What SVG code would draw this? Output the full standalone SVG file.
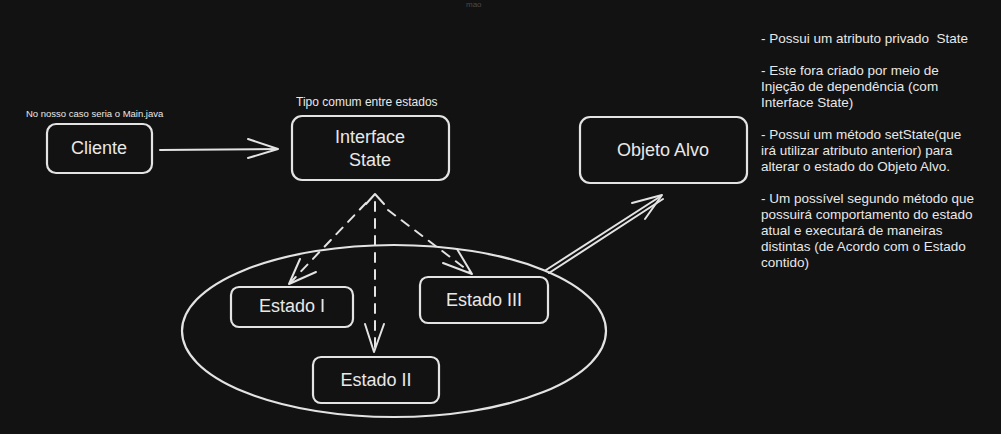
<svg xmlns="http://www.w3.org/2000/svg" width="1001" height="434" viewBox="0 0 1001 434">
<style>
.bg{fill:#121212}
.box{fill:none;stroke:#e3e3e3;stroke-width:2.2;}
.t{fill:#e8e8e8;font-family:"Liberation Sans",Arial,sans-serif}
.node{font-size:18px;text-anchor:middle}
.note{font-size:13.5px;white-space:pre}
.conn{fill:none;stroke:#e3e3e3;stroke-width:2;stroke-linecap:round;stroke-linejoin:round}
.dash{stroke-dasharray:9 8}
</style>
<rect class="bg" x="0" y="0" width="1001" height="434"/>
<text class="t" x="466" y="7" style="font-size:8px;fill:#4a4a4a">mao</text>

<g id="cliente">
<rect class="box" x="47" y="124" width="105" height="49" rx="9"/>
<text class="t node" x="99" y="154">Cliente</text>
<text class="t" x="26" y="117" style="font-size:9.5px">No nosso caso seria o Main.java</text>
</g>

<g id="interface-state">
<rect class="box" x="292" y="116" width="157" height="64" rx="10"/>
<text class="t node" x="370" y="143">Interface</text>
<text class="t node" x="370" y="166">State</text>
<text class="t" x="296" y="106" style="font-size:12px">Tipo comum entre estados</text>
</g>

<g id="objeto-alvo">
<rect class="box" x="580" y="117" width="167" height="66" rx="10"/>
<text class="t node" x="663" y="156">Objeto Alvo</text>
</g>

<g id="grupo-estados">
<ellipse class="box" cx="394" cy="331" rx="212" ry="86"/>
</g>

<g id="estado-1">
<rect class="box" x="231" y="287" width="122" height="40" rx="8"/>
<text class="t node" x="292" y="312">Estado I</text>
</g>
<g id="estado-3">
<rect class="box" x="420" y="277" width="128" height="46" rx="8"/>
<text class="t node" x="484" y="306">Estado III</text>
</g>
<g id="estado-2">
<rect class="box" x="313" y="357" width="126" height="46" rx="8"/>
<text class="t node" x="376" y="386">Estado II</text>
</g>

<g id="connectors">
<path class="conn" d="M160 150 L277 149" stroke-width="3"/>
<path class="conn" d="M248 139 L278 149 L248 158"/>
<path class="conn" d="M546 270 L661 196 M549 273 L663 199"/>
<path class="conn" d="M632 203 L662 195 L645 219"/>
<path class="conn" d="M366 204 L375 194 L384 204"/>
<path class="conn dash" d="M366 203 L290 283"/>
<path class="conn" d="M300 259 L289 284 L316 272"/>
<path class="conn dash" d="M375 202 L375 350"/>
<path class="conn" d="M365 324 L374 352 L384 324"/>
<path class="conn dash" d="M388 210 L470 272"/>
<path class="conn" d="M443 263 L472 274 L457 249"/>
</g>

<g id="notas">
<text class="t note" x="761" y="43">- Possui um atributo privado  State</text>
<text class="t note" x="761" y="75">- Este fora criado por meio de</text>
<text class="t note" x="761" y="91">Injeção de dependência (com</text>
<text class="t note" x="761" y="107">Interface State)</text>
<text class="t note" x="761" y="139">- Possui um método setState(que</text>
<text class="t note" x="761" y="155">irá utilizar atributo anterior) para</text>
<text class="t note" x="761" y="171">alterar o estado do Objeto Alvo.</text>
<text class="t note" x="761" y="203">- Um possível segundo método que</text>
<text class="t note" x="761" y="219">possuirá comportamento do estado</text>
<text class="t note" x="761" y="235">atual e executará de maneiras</text>
<text class="t note" x="761" y="251">distintas (de Acordo com o Estado</text>
<text class="t note" x="761" y="267">contido)</text>
</g>
</svg>
